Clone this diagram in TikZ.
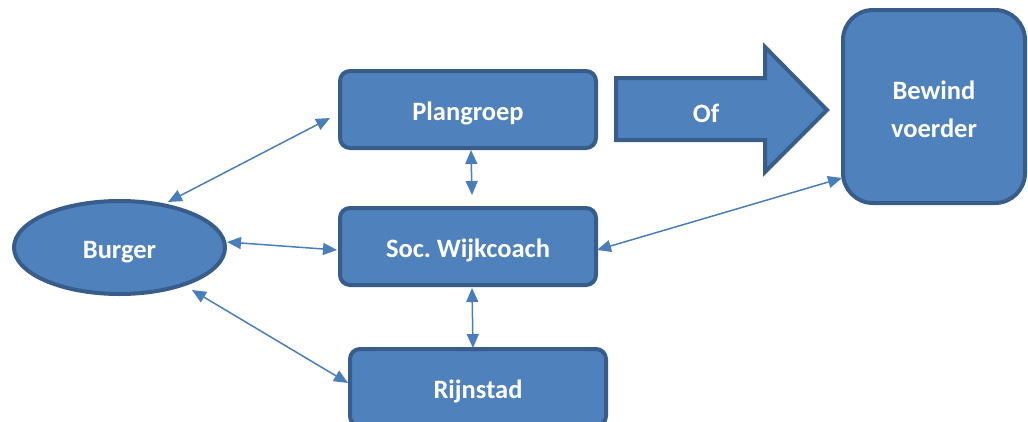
\documentclass[tikz,border=0pt]{standalone}
\usepackage{fontspec}
\setmainfont{Carlito}
\usetikzlibrary{shapes.geometric,arrows.meta,calc}
\definecolor{boxfill}{HTML}{4F81BD}
\definecolor{boxline}{HTML}{385D8A}
\definecolor{conn}{HTML}{4A7EBB}
\tikzset{
  lbl/.style={text=white, font=\fontsize{26.5}{38}\selectfont\bfseries\frenchspacing,
    text height=22pt, text depth=0pt},
  box/.style={lbl, draw=boxline, fill=boxfill, line width=4pt, rounded corners=10pt,
    minimum width=256pt, minimum height=77pt, inner sep=0pt, outer sep=0pt, align=center},
  oval/.style={box, ellipse, rounded corners=0pt, minimum width=211pt, minimum height=93pt},
  bigbox/.style={box, rounded corners=30pt, minimum width=182pt, minimum height=193pt, text height=61pt},
  link/.style={draw=conn, line width=1.5pt, {Triangle[length=14pt,width=12pt]}-{Triangle[length=14pt,width=12pt]}},
  blockarrow/.style={draw=boxline, fill=boxfill, line width=4pt, line join=miter}
}
\begin{document}
\begin{tikzpicture}[x=1pt,y=-1pt]
\useasboundingbox (0,0) rectangle (1028,421);
\begin{scope}
\clip (0,0) rectangle (1028,421);
\node[box] (plan) at (468,109.5) {Plangroep};
\node[box] (soc) at (468,246.5) {Soc. Wijkcoach};
\node[box] (rijn) at (478,387.5) {Rijnstad};
\node[oval] (burger) at (119.5,247.5) {Burger};
\node[bigbox] (bewind) at (934,106.5) {Bewind\\voerder};
\draw[blockarrow] (616,78) -- (765,78) -- (765,47) -- (827,110) -- (765,172) -- (765,140) -- (616,140) -- cycle;
\node[lbl] (of) at (706,111.5) {Of};
\draw[link] ($(burger)+(48.5,-45.5)$) -- ($(plan)+(-138,8.5)$);
\draw[link] ($(burger)+(107.5,-5.5)$) -- ($(soc)+(-131,3.5)$);
\draw[link] ($(burger)+(72.5,42.5)$) -- ($(rijn)+(-130,-4.5)$);
\draw[link] ($(plan)+(3,40.5)$) -- ($(soc)+(4,-51.5)$);
\draw[link] ($(soc)+(4,41.5)$) -- ($(rijn)+(-5,-39.5)$);
\draw[link] ($(soc)+(129,3.5)$) -- ($(bewind)+(-92,71.5)$);
\end{scope}
\end{tikzpicture}
\end{document}
